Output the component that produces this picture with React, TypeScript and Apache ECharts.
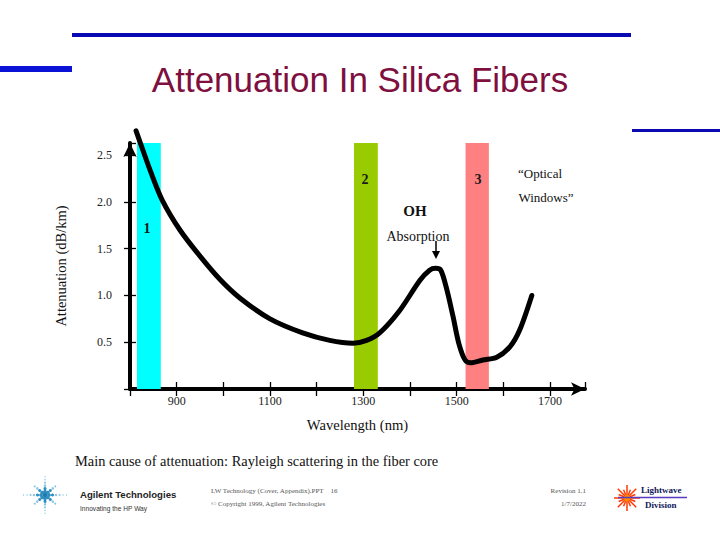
import React, { useEffect, useRef } from "react";
import * as echarts from "echarts";

// Data
const wavelengths = [813, 830, 843, 869, 907, 950, 993, 1036, 1100, 1170, 1228, 1278, 1307, 1335, 1378, 1421, 1442, 1455, 1466, 1478, 1492, 1505, 1518, 1530, 1556, 1586, 1614, 1635, 1661];
const attenuation = [2.76, 2.52, 2.34, 2.02, 1.70, 1.42, 1.17, 0.97, 0.75, 0.60, 0.52, 0.49, 0.52, 0.60, 0.84, 1.16, 1.27, 1.29, 1.27, 1.08, 0.78, 0.48, 0.31, 0.28, 0.31, 0.34, 0.45, 0.63, 1.00];

const windowNames = ["1", "2", "3"];
const windowStart = [815, 1280, 1519];
const windowEnd = [866, 1331, 1569];
const windowColors = ["#00FFFF", "#99CC00", "#FF8080"];

const xTickLabels = ["900", "1100", "1300", "1500", "1700"];
const yTickLabels = ["0.5", "1.0", "1.5", "2.0", "2.5"];

const X_MIN = 800;
const X_MAX = 1775;
const Y_MIN = 0;
const Y_MAX = 2.63;

const SERIF = "'Liberation Serif', 'DejaVu Serif', serif";
const SANS = "'Liberation Sans', Arial, sans-serif";

function buildGraphics() {
  const g: any[] = [];
  // decorative blue rules
  g.push({ type: "rect", shape: { x: 72, y: 33, width: 559, height: 4 }, style: { fill: "#0A0AB4" }, silent: true });
  g.push({ type: "rect", shape: { x: 0, y: 66, width: 72, height: 6 }, style: { fill: "#0A12D6" }, silent: true });
  g.push({ type: "rect", shape: { x: 632, y: 129, width: 88, height: 3 }, style: { fill: "#0A0AB0" }, silent: true });

  // title
  g.push({
    type: "text", x: 360, y: 79,
    style: { text: "Attenuation In Silica Fibers", font: `35px ${SANS}`, fill: "#7E0F3E", align: "center", verticalAlign: "middle" },
  });

  // window numbers
  const numPos = [[147, 228], [365, 179], [478, 179]];
  windowNames.forEach((n, i) => {
    g.push({
      type: "text", x: numPos[i][0], y: numPos[i][1], z: 100,
      style: { text: n, font: `bold 14px ${SERIF}`, fill: "#1a1a1a", align: "center", verticalAlign: "middle" },
    });
  });

  // OH absorption annotation
  g.push({ type: "text", x: 415, y: 211, z: 100, style: { text: "OH", font: `bold 15px ${SERIF}`, fill: "#111", align: "center", verticalAlign: "middle" } });
  g.push({ type: "text", x: 418, y: 236, z: 100, style: { text: "Absorption", font: `14px ${SERIF}`, fill: "#111", align: "center", verticalAlign: "middle" } });
  g.push({ type: "line", z: 100, shape: { x1: 436, y1: 241, x2: 436, y2: 253 }, style: { stroke: "#000", lineWidth: 1.5 } });
  g.push({ type: "polygon", z: 100, shape: { points: [[432, 251], [440, 251], [436, 259]] }, style: { fill: "#000" } });

  // optical windows
  g.push({ type: "text", x: 540, y: 173, style: { text: "\u201COptical", font: `13px ${SERIF}`, fill: "#111", align: "center", verticalAlign: "middle" } });
  g.push({ type: "text", x: 546, y: 197, style: { text: "Windows\u201D", font: `13px ${SERIF}`, fill: "#111", align: "center", verticalAlign: "middle" } });

  // caption
  g.push({ type: "text", x: 75, y: 461, style: { text: "Main cause of attenuation: Rayleigh scattering in the fiber core", font: `14.4px ${SERIF}`, fill: "#111", align: "left", verticalAlign: "middle" } });

  // Agilent spark logo
  const cx = 45, cy = 495;
  for (let a = 0; a < 8; a++) {
    const ang = (a * Math.PI) / 4;
    const maxR = a % 2 === 0 ? 22 : 16;
    for (let r = 4; r <= maxR; r += 3.5) {
      const s = Math.max(0.6, 2.2 - r / 12);
      g.push({
        type: "circle",
        shape: { cx: cx + Math.cos(ang) * r, cy: cy + Math.sin(ang) * r * 0.85, r: s },
        style: { fill: r < 10 ? "#2E8FC0" : "#8CC6E4" }, silent: true,
      });
    }
  }
  g.push({ type: "circle", shape: { cx, cy, r: 2.2 }, style: { fill: "#1F7AB0" } });
  g.push({ type: "text", x: 80, y: 494, style: { text: "Agilent Technologies", font: `bold 9.6px ${SANS}`, fill: "#222", align: "left", verticalAlign: "middle" } });
  g.push({ type: "text", x: 80, y: 508, style: { text: "Innovating the HP Way", font: `6.6px ${SANS}`, fill: "#333", align: "left", verticalAlign: "middle" } });

  // footer middle
  g.push({ type: "text", x: 211, y: 491, style: { text: "LW Technology (Cover, Appendix).PPT    16", font: `7px ${SERIF}`, fill: "#555", align: "left", verticalAlign: "middle" } });
  g.push({ type: "text", x: 211, y: 504, style: { text: "\u00A9 Copyright 1999, Agilent Technologies", font: `7px ${SERIF}`, fill: "#555", align: "left", verticalAlign: "middle" } });
  g.push({ type: "text", x: 586, y: 491, style: { text: "Revision 1.1", font: `7px ${SERIF}`, fill: "#555", align: "right", verticalAlign: "middle" } });
  g.push({ type: "text", x: 586, y: 504, style: { text: "1/7/2022", font: `7px ${SERIF}`, fill: "#555", align: "right", verticalAlign: "middle" } });

  // Lightwave Division logo
  const lx = 627, ly = 498;
  for (let a = 0; a < 16; a++) {
    const ang = (a * Math.PI) / 8;
    const len = a % 2 === 0 ? 13 : 9;
    g.push({
      type: "line",
      shape: { x1: lx, y1: ly, x2: lx + Math.cos(ang) * len, y2: ly + Math.sin(ang) * len },
      style: { stroke: "#FF3A00", lineWidth: 1.5 }, silent: true,
    });
  }
  g.push({ type: "circle", shape: { cx: lx, cy: ly, r: 3.5 }, style: { fill: "#FF8A00" } });
  g.push({ type: "line", shape: { x1: 618, y1: 497.5, x2: 687, y2: 497.5 }, style: { stroke: "#5A3AC0", lineWidth: 1.5 } });
  g.push({ type: "text", x: 641, y: 490, style: { text: "Lightwave", font: `bold 9px ${SERIF}`, fill: "#12185A", align: "left", verticalAlign: "middle" } });
  g.push({ type: "text", x: 645, y: 505, style: { text: "Division", font: `bold 9px ${SERIF}`, fill: "#12185A", align: "left", verticalAlign: "middle" } });

  return g;
}

export default function App() {
  const ref = useRef<HTMLDivElement>(null);

  useEffect(() => {
    if (!ref.current) return;
    const chart = echarts.init(ref.current, undefined, { renderer: "svg" });

    const xFmt = (v: number) => {
      const s = String(Math.round(v));
      return xTickLabels.includes(s) && Math.abs(v - Math.round(v)) < 1e-6 ? s : "";
    };
    const yFmt = (v: number) => {
      const s = v.toFixed(1);
      return yTickLabels.includes(s) && Math.abs(v * 2 - Math.round(v * 2)) < 1e-6 ? s : "";
    };

    const axisLabelStyle = { fontFamily: SERIF, fontSize: 12, color: "#222" };

    const option: any = {
      animation: false,
      backgroundColor: "#ffffff",
      grid: { left: 130, top: 143, width: 455, height: 246, containLabel: false },
      xAxis: [
        {
          type: "value", min: X_MIN, max: X_MAX, interval: 100, position: "bottom",
          name: "Wavelength (nm)", nameLocation: "middle", nameGap: 28,
          nameTextStyle: { fontFamily: SERIF, fontSize: 14.6, color: "#111" },
          axisLine: { show: true, symbol: ["none", "arrow"], symbolSize: [10, 14], lineStyle: { color: "#000", width: 4 } },
          axisTick: { show: true, inside: false, length: 7, lineStyle: { color: "#000", width: 1.3 } },
          axisLabel: { ...axisLabelStyle, margin: 6, formatter: xFmt, showMaxLabel: false },
          splitLine: { show: false },
        },
        {
          type: "value", min: X_MIN, max: X_MAX, interval: 100, position: "bottom",
          axisLine: { show: false },
          axisTick: { show: true, inside: true, length: 7, lineStyle: { color: "#000", width: 1.3 } },
          axisLabel: { show: false },
          splitLine: { show: false },
        },
      ],
      yAxis: [
        {
          type: "value", min: Y_MIN, max: Y_MAX, interval: 0.5, position: "left",
          name: "Attenuation (dB/km)", nameLocation: "middle", nameGap: 62, nameRotate: 90,
          nameTextStyle: { fontFamily: SERIF, fontSize: 14.5, color: "#111" },
          axisLine: { show: true, symbol: ["none", "arrow"], symbolSize: [10, 14], lineStyle: { color: "#000", width: 4 } },
          axisTick: { show: true, inside: false, length: 6, lineStyle: { color: "#000", width: 1.3 } },
          axisLabel: { ...axisLabelStyle, margin: 18, formatter: yFmt, showMaxLabel: false },
          splitLine: { show: false },
        },
        {
          type: "value", min: Y_MIN, max: Y_MAX, interval: 0.5, position: "left",
          axisLine: { show: false },
          axisTick: { show: true, inside: true, length: 6, lineStyle: { color: "#000", width: 1.3 } },
          axisLabel: { show: false },
          splitLine: { show: false },
        },
      ],
      series: [
        {
          type: "line",
          xAxisIndex: 0, yAxisIndex: 0,
          data: wavelengths.map((w, i) => [w, attenuation[i]]),
          smooth: 0.3,
          clip: false,
          showSymbol: false,
          lineStyle: { color: "#000", width: 5, cap: "round", join: "round" },
          z: 5,
          markArea: {
            silent: true,
            data: windowStart.map((s, i) => [
              { xAxis: s, yAxis: Y_MIN, itemStyle: { color: windowColors[i], opacity: 1 } },
              { xAxis: windowEnd[i], yAxis: Y_MAX },
            ]),
          },
        },
      ],
      graphic: buildGraphics(),
    };

    chart.setOption(option);
    return () => chart.dispose();
  }, []);

  return <div ref={ref} style={{ position: "fixed", left: 0, top: 0, width: 720, height: 540 }} />;
}
